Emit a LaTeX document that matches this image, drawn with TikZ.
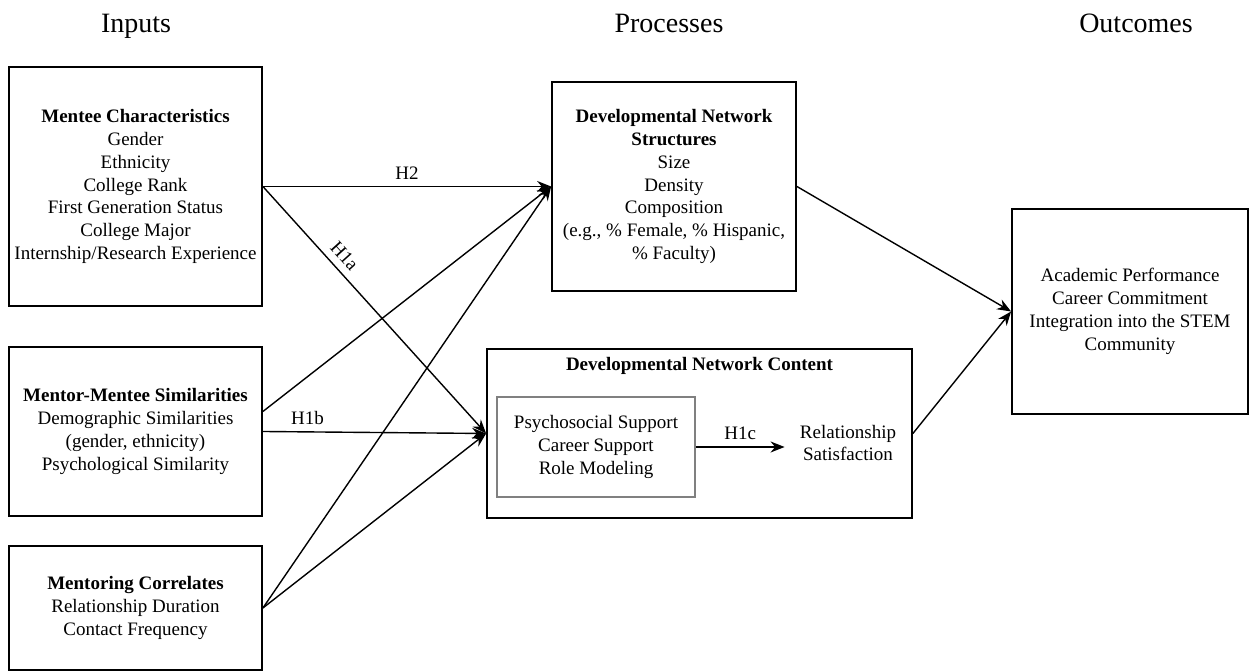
\documentclass[tikz,border=0pt]{standalone}
\usepackage{fontspec}
\setmainfont{Liberation Serif}
\usetikzlibrary{arrows.meta}

\tikzset{
  box/.style={draw, line width=0.9pt, align=center, inner sep=1pt,
    font=\fontsize{9.5}{11.4}\selectfont},
  inbox/.style={draw=gray, line width=0.8pt, align=center, inner sep=1pt,
    font=\fontsize{9.5}{11.4}\selectfont},
  link/.style={-{Stealth[length=7pt,width=5.5pt]}, line width=0.7pt},
  hdr/.style={font=\fontsize{14}{16}\selectfont, anchor=base},
  lbl/.style={font=\fontsize{9.5}{11.4}\selectfont, align=center}
}

\begin{document}
\begin{tikzpicture}[x=50pt,y=50pt]
    \useasboundingbox (0,0) rectangle (12.56,6.72);

    % Column headings
    \node[hdr] (hin) at (1.36,6.39) {Inputs};
    \node[hdr] (hproc) at (6.69,6.39) {Processes};
    \node[hdr] (hout) at (11.36,6.39) {Outcomes};

    % Inputs
    \node[box, minimum width=126.5pt, minimum height=119.5pt] (mentee) at (1.355,4.855)
      {\textbf{Mentee Characteristics}\\Gender\\Ethnicity\\College Rank\\First Generation Status\\College Major\\Internship/Research Experience};
    \node[box, minimum width=126.5pt, minimum height=84.5pt] (similar) at (1.355,2.405)
      {\textbf{Mentor-Mentee Similarities}\\Demographic Similarities\\(gender, ethnicity)\\Psychological Similarity};
    \node[box, minimum width=126.5pt, minimum height=62pt] (correl) at (1.355,0.64)
      {\textbf{Mentoring Correlates}\\Relationship Duration\\Contact Frequency};

    % Processes
    \node[box, minimum width=122pt, minimum height=104.5pt] (struct) at (6.74,4.855)
      {\textbf{Developmental Network}\\\textbf{Structures}\\Size\\Density\\Composition\\(e.g., \% Female, \% Hispanic,\\\% Faculty)};
    \node[box, minimum width=212.5pt, minimum height=84.5pt] (content) at (6.995,2.385) {};
    \node[lbl] (ctitle) at ([yshift=-9pt]content.north) {\textbf{Developmental Network Content}};
    \node[inbox, minimum width=99pt, minimum height=50pt] (support) at (5.96,2.25)
      {Psychosocial Support\\Career Support\\Role Modeling};
    \node[lbl, inner sep=7.5pt] (satisf) at (8.48,2.29) {Relationship\\Satisfaction};

    % Outcomes
    \node[box, minimum width=118pt, minimum height=102.5pt] (outcome) at (11.30,3.605)
      {Academic Performance\\Career Commitment\\Integration into the STEM\\Community};

    % Hypothesised paths
    \draw[link] (mentee.east) -- node[lbl, above] {H2} (struct.west);
    \draw[link] (mentee.east) -- node[lbl, sloped, above, pos=0.32] {H1a} (content.west);
    \draw[link] ([yshift=10pt]similar.east) -- (struct.west);
    \draw[link] (similar.east) -- node[lbl, above, pos=0.2] {H1b} (content.west);
    \draw[link] (correl.east) -- (struct.west);
    \draw[link] (correl.east) -- (content.west);
    \draw[link] (support.east) -- node[lbl, above] {H1c} (support.east -| satisf.west);
    \draw[link] (struct.east) -- (outcome.west);
    \draw[link] (content.east) -- (outcome.west);
\end{tikzpicture}
\end{document}
